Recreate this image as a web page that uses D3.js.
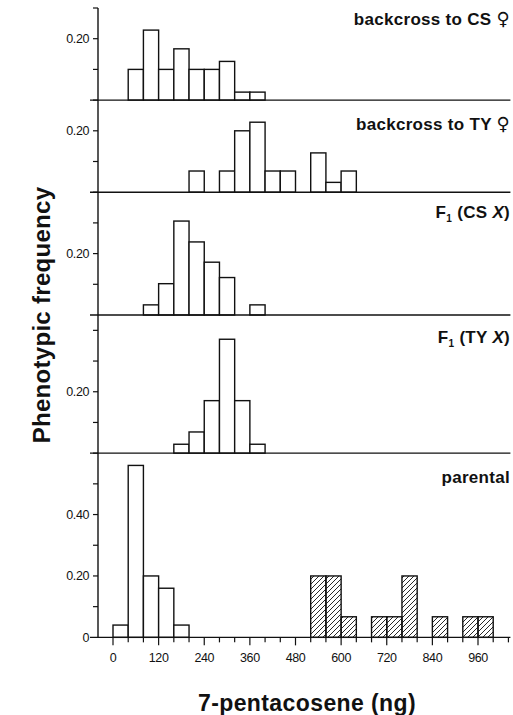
<!DOCTYPE html>
<html>
<head>
<meta charset="utf-8">
<script src="https://cdn.jsdelivr.net/npm/d3@7"></script>
<style>
  body { margin: 0; background: #fff; }
  text { font-family: "Liberation Sans", Arial, sans-serif; fill: #111; }
</style>
</head>
<body>
<div id="chart"></div>
<script>
// Histogram data: bin start (ng, 40 ng bins) and phenotypic frequency
const binWidth = 40;

const bcCsBins = [40, 80, 120, 160, 200, 240, 280, 320, 360];
const bcCsFreq = [0.10, 0.228, 0.10, 0.167, 0.10, 0.10, 0.126, 0.026, 0.026];

const bcTyBins = [200, 280, 320, 360, 400, 440, 520, 560, 600];
const bcTyFreq = [0.069, 0.069, 0.20, 0.228, 0.069, 0.069, 0.128, 0.032, 0.069];

const f1CsBins = [80, 120, 160, 200, 240, 280, 360];
const f1CsFreq = [0.033, 0.102, 0.306, 0.238, 0.172, 0.122, 0.033];

const f1TyBins = [160, 200, 240, 280, 320, 360];
const f1TyFreq = [0.029, 0.069, 0.171, 0.371, 0.171, 0.029];

const parCsBins = [0, 40, 80, 120, 160];
const parCsFreq = [0.04, 0.56, 0.20, 0.16, 0.04];

const parTyBins = [520, 560, 600, 680, 720, 760, 840, 920, 960];
const parTyFreq = [0.20, 0.20, 0.067, 0.067, 0.067, 0.20, 0.067, 0.067, 0.067];

// x ticks
const xTickStep = 40;
const xTickMax = 1040;
const xLabelTicks = [0, 120, 240, 360, 480, 600, 720, 840, 960];

// panel labels (parts so F1 subscript, italic X and the female sign can be styled)
const labelCsBack = [{t: "backcross to CS "}, {t: "\u2640", sym: true}];
const labelTyBack = [{t: "backcross to TY "}, {t: "\u2640", sym: true}];
const labelF1Cs = [{t: "F"}, {t: "1", sub: true}, {t: " (CS ", up: true}, {t: "X", it: true}, {t: ")"}];
const labelF1Ty = [{t: "F"}, {t: "1", sub: true}, {t: " (TY ", up: true}, {t: "X", it: true}, {t: ")"}];
const labelParental = [{t: "parental"}];

const panels = [
  {label: labelCsBack, yMax: 0.3, yLabels: [0.2], labelDy: 17,
   series: [{bins: bcCsBins, freq: bcCsFreq, hatched: false}]},
  {label: labelTyBack, yMax: 0.3, yLabels: [0.2], labelDy: 30,
   series: [{bins: bcTyBins, freq: bcTyFreq, hatched: false}]},
  {label: labelF1Cs, yMax: 0.4, yLabels: [0.2], labelDy: 26,
   series: [{bins: f1CsBins, freq: f1CsFreq, hatched: false}]},
  {label: labelF1Ty, yMax: 0.45, yLabels: [0.2], labelDy: 28,
   series: [{bins: f1TyBins, freq: f1TyFreq, hatched: false}]},
  {label: labelParental, yMax: 0.6, yLabels: [0, 0.2, 0.4], labelDy: 30,
   series: [{bins: parCsBins, freq: parCsFreq, hatched: false},
            {bins: parTyBins, freq: parTyFreq, hatched: true}]}
];

const width = 513, height = 715;
const axisX = 98;
const topY = 8;
const pxPerUnit = 307;

const svg = d3.select('#chart').append('svg')
  .attr('width', width)
  .attr('height', height);

const defs = svg.append('defs');
defs.append('pattern')
  .attr('id', 'hatch')
  .attr('patternUnits', 'userSpaceOnUse')
  .attr('width', 5).attr('height', 5)
  .append('path')
  .attr('d', 'M0,5 L5,0 M-1,1 L1,-1 M4,6 L6,4')
  .attr('stroke', '#111')
  .attr('stroke-width', 0.9);

const x = d3.scaleLinear().domain([0, 960]).range([113, 478]);

// stack panels
let y0 = topY;
panels.forEach(p => {
  const h = p.yMax * pxPerUnit;
  p.y = d3.scaleLinear().domain([0, p.yMax]).range([y0 + h, y0]);
  p.top = y0;
  p.base = y0 + h;
  y0 += h;
});

const bottom = panels[panels.length - 1].base;

// vertical axis line
svg.append('line')
  .attr('x1', axisX).attr('x2', axisX)
  .attr('y1', topY).attr('y2', bottom)
  .attr('stroke', '#111').attr('stroke-width', 1.4);

panels.forEach(p => {
  const g = svg.append('g');

  // bars
  p.series.forEach(s => {
    g.selectAll(null)
      .data(s.bins.map((b, i) => ({b, f: s.freq[i]})))
      .join('rect')
      .attr('x', d => x(d.b))
      .attr('width', d => x(d.b + binWidth) - x(d.b))
      .attr('y', d => p.y(d.f))
      .attr('height', d => p.y(0) - p.y(d.f))
      .attr('fill', s.hatched ? 'url(#hatch)' : '#fff')
      .attr('stroke', '#111')
      .attr('stroke-width', 1.4);
  });

  // baseline
  g.append('line')
    .attr('x1', 90).attr('x2', x(xTickMax) + 2)
    .attr('y1', p.base).attr('y2', p.base)
    .attr('stroke', '#111').attr('stroke-width', 1.4);

  // y ticks every 0.1
  const ticks = d3.range(0.1, p.yMax + 0.001, 0.1);
  g.selectAll(null)
    .data(ticks)
    .join('line')
    .attr('x1', axisX - 5).attr('x2', axisX)
    .attr('y1', d => p.y(d)).attr('y2', d => p.y(d))
    .attr('stroke', '#111').attr('stroke-width', 1.2);

  g.selectAll(null)
    .data(p.yLabels)
    .join('text')
    .attr('x', axisX - 9)
    .attr('y', d => p.y(d))
    .attr('dy', '0.35em')
    .attr('text-anchor', 'end')
    .style('font-size', '12.5px')
    .style('letter-spacing', '-0.4px')
    .text(d => d === 0 ? '0' : d3.format('.2f')(d));

  // panel label
  const t = g.append('text')
    .attr('x', 510)
    .attr('y', p.top + p.labelDy)
    .attr('text-anchor', 'end')
    .style('font-size', '17px')
    .style('font-weight', 'bold')
    .style('letter-spacing', '0.3px');
  p.label.forEach(part => {
    const ts = t.append('tspan').text(part.t);
    if (part.sub) ts.style('font-size', '10px').attr('dy', 4);
    if (part.up) ts.attr('dy', -4);
    if (part.it) ts.style('font-style', 'italic');
    if (part.sym) ts.style('font-family', '"DejaVu Sans", sans-serif').style('font-size', '18px');
  });
});

// x axis ticks below bottom baseline
const xTicks = d3.range(0, xTickMax + 1, xTickStep);
svg.selectAll(null)
  .data(xTicks)
  .join('line')
  .attr('x1', d => x(d)).attr('x2', d => x(d))
  .attr('y1', bottom)
  .attr('y2', d => bottom + (d % 120 === 0 ? 8 : 5))
  .attr('stroke', '#111').attr('stroke-width', 1.2);

svg.selectAll(null)
  .data(xLabelTicks)
  .join('text')
  .attr('x', d => x(d))
  .attr('y', 662)
  .attr('text-anchor', 'middle')
  .style('font-size', '12.5px')
  .style('letter-spacing', '-0.4px')
  .text(d => d);

// axis titles
svg.append('text')
  .attr('x', 307)
  .attr('y', 711)
  .attr('text-anchor', 'middle')
  .style('font-size', '23px')
  .style('font-weight', 'bold')
  .style('letter-spacing', '0.4px')
  .text('7-pentacosene (ng)');

svg.append('text')
  .attr('transform', 'translate(50,315) rotate(-90)')
  .attr('text-anchor', 'middle')
  .style('font-size', '24px')
  .style('font-weight', 'bold')
  .style('letter-spacing', '0.3px')
  .text('Phenotypic frequency');
</script>
</body>
</html>
